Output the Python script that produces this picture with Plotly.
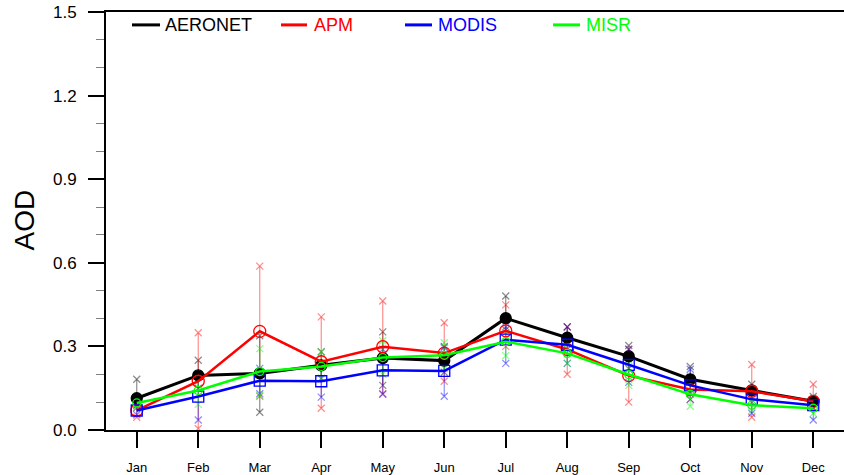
import plotly.graph_objects as go

months = ["Jan", "Feb", "Mar", "Apr", "May", "Jun", "Jul", "Aug", "Sep", "Oct", "Nov", "Dec"]
x_pos = list(range(1, 13))

aeronet = [0.114, 0.196, 0.203, 0.232, 0.258, 0.249, 0.401, 0.331, 0.264, 0.182, 0.142, 0.103]
apm = [0.070, 0.175, 0.354, 0.245, 0.299, 0.276, 0.356, 0.289, 0.195, 0.145, 0.139, 0.103]
modis = [0.070, 0.120, 0.177, 0.175, 0.214, 0.212, 0.324, 0.306, 0.234, 0.160, 0.110, 0.089]
misr = [0.097, 0.142, 0.210, 0.228, 0.260, 0.268, 0.317, 0.275, 0.199, 0.128, 0.089, 0.078]

aeronet_lo = [0.080, 0.150, 0.064, 0.185, 0.160, 0.207, 0.360, 0.290, 0.220, 0.130, 0.100, 0.080]
aeronet_hi = [0.182, 0.250, 0.338, 0.281, 0.352, 0.300, 0.481, 0.370, 0.303, 0.228, 0.164, 0.120]
apm_lo = [0.046, 0.005, 0.121, 0.078, 0.130, 0.175, 0.300, 0.200, 0.100, 0.110, 0.046, 0.080]
apm_hi = [0.090, 0.349, 0.588, 0.406, 0.463, 0.385, 0.449, 0.370, 0.290, 0.190, 0.235, 0.164]
modis_lo = [0.055, 0.036, 0.130, 0.118, 0.128, 0.121, 0.239, 0.239, 0.171, 0.110, 0.060, 0.036]
modis_hi = [0.090, 0.200, 0.221, 0.230, 0.290, 0.296, 0.370, 0.370, 0.290, 0.218, 0.140, 0.110]
misr_lo = [0.085, 0.092, 0.125, 0.185, 0.200, 0.220, 0.267, 0.239, 0.160, 0.085, 0.070, 0.060]
misr_hi = [0.110, 0.200, 0.292, 0.280, 0.320, 0.313, 0.350, 0.310, 0.250, 0.170, 0.120, 0.100]

series = [
    ("AERONET", aeronet, aeronet_lo, aeronet_hi, (0, 0, 0), "circle", 11, 3.0),
    ("APM", apm, apm_lo, apm_hi, (255, 0, 0), "circle-open", 12, 2.5),
    ("MODIS", modis, modis_lo, modis_hi, (0, 0, 255), "square-open", 11, 2.5),
    ("MISR", misr, misr_lo, misr_hi, (0, 255, 0), "circle-open", 8, 2.5),
]

fig = go.Figure()

# error bars with x markers at ends
for name, mean, lo, hi, rgb, sym, size, lw in series:
    faint = "rgba(%d,%d,%d,0.45)" % rgb
    fig.add_trace(go.Scatter(
        x=x_pos, y=mean, mode="markers", marker=dict(size=1, color="rgba(0,0,0,0)"),
        error_y=dict(type="data", symmetric=False,
                     array=[h - m for h, m in zip(hi, mean)],
                     arrayminus=[m - l for m, l in zip(mean, lo)],
                     color=faint, thickness=1.2, width=0),
        showlegend=False, hoverinfo="skip"))
    fig.add_trace(go.Scatter(
        x=x_pos + x_pos, y=lo + hi, mode="markers",
        marker=dict(symbol="x-thin", size=7, line=dict(color=faint, width=1.3)),
        showlegend=False, hoverinfo="skip"))

for name, mean, lo, hi, rgb, sym, size, lw in series:
    col = "rgb(%d,%d,%d)" % rgb
    fig.add_trace(go.Scatter(
        x=x_pos, y=mean, mode="lines+markers", name=name,
        line=dict(color=col, width=lw),
        marker=dict(symbol=sym, size=size, color=col, line=dict(color=col, width=1.3)),
        showlegend=False, hoverinfo="skip"))

# manual legend
L, W = 106, 738
T, H = 12, 421
def px(xp):
    return (xp - L) / W
def py(yp):
    return (T + H - yp) / H

legend_pos = [(132, 160, 163), (281, 307, 312), (405, 432, 436), (553, 580, 584)]
for (name, mean, lo, hi, rgb, sym, size, lw), (x0, x1, xt) in zip(series, legend_pos):
    col = "rgb(%d,%d,%d)" % rgb
    fig.add_shape(type="line", xref="paper", yref="paper", x0=px(x0), x1=px(x1),
                  y0=py(25), y1=py(25), line=dict(color=col, width=3))
    fig.add_annotation(xref="paper", yref="paper", x=px(xt), y=py(25), text=name,
                       showarrow=False, xanchor="left", yanchor="middle",
                       font=dict(color=col, size=18, family="Liberation Sans, Arial"))

fig.add_annotation(xref="paper", yref="paper", x=px(25), y=py(222), text="AOD",
                   textangle=-90, showarrow=False, xanchor="center", yanchor="middle",
                   font=dict(size=28, color="black", family="Liberation Sans, Arial"))

fig.update_layout(
    width=844, height=475,
    margin=dict(l=L, r=0, t=T, b=475 - T - H),
    plot_bgcolor="white", paper_bgcolor="white",
    font=dict(family="Liberation Sans, Arial", color="black"),
    showlegend=False,
)
fig.update_xaxes(
    range=[0.5, 12.5], tickmode="array", tickvals=x_pos, ticktext=months,
    ticks="outside", ticklen=16, tickwidth=2, tickcolor="black",
    showline=True, linewidth=2, linecolor="black", mirror=True,
    showgrid=False, zeroline=False, tickfont=dict(size=13),
    ticklabelstandoff=8,
)
fig.update_yaxes(
    range=[0, 1.5], tickmode="array", tickvals=[0, 0.3, 0.6, 0.9, 1.2, 1.5],
    ticktext=["0.0", "0.3", "0.6", "0.9", "1.2", "1.5"],
    ticks="outside", ticklen=16, tickwidth=2, tickcolor="black",
    minor=dict(tickvals=[0.1, 0.2, 0.4, 0.5, 0.7, 0.8, 1.0, 1.1, 1.3, 1.4],
               ticks="outside", ticklen=8, tickwidth=1, tickcolor="gray"),
    showline=True, linewidth=2, linecolor="black", mirror=False,
    showgrid=False, zeroline=False, tickfont=dict(size=17),
    ticklabelstandoff=8,
)

fig.write_html("out.html")
